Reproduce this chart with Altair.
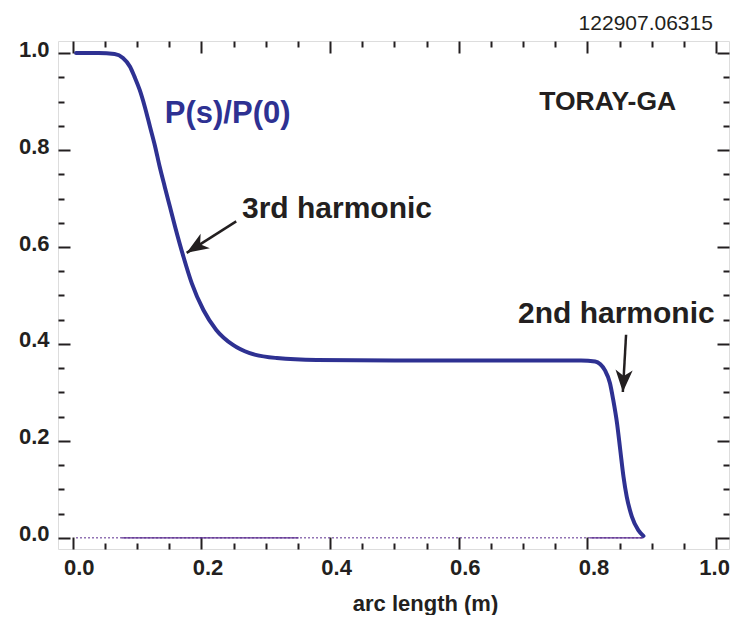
import math
import altair as alt
import pandas as pd

# ---- data ----
S = [0.005, 0.04, 0.065, 0.078, 0.089, 0.096, 0.104, 0.112, 0.12, 0.128, 0.135, 0.143,
     0.151, 0.159, 0.172, 0.185, 0.203, 0.223, 0.249, 0.275, 0.317, 0.379, 0.5, 0.6,
     0.7, 0.79, 0.812, 0.82, 0.827, 0.835, 0.84, 0.846, 0.851, 0.856, 0.861, 0.869,
     0.879, 0.887]
P = [1.0, 1.0, 0.998, 0.99, 0.972, 0.951, 0.924, 0.889, 0.848, 0.807, 0.766, 0.724,
     0.683, 0.642, 0.58, 0.525, 0.47, 0.429, 0.398, 0.381, 0.371, 0.367, 0.366, 0.366,
     0.366, 0.366, 0.364, 0.358, 0.346, 0.319, 0.285, 0.236, 0.181, 0.126, 0.085, 0.044,
     0.016, 0.004]

BASE_DOTTED = [0.005, 0.887]
BASE_SOLID_A = [0.076, 0.351]
BASE_SOLID_B = [0.804, 0.887]

X_TICKS = [0.0, 0.05, 0.1, 0.15, 0.2, 0.25, 0.3, 0.35, 0.4, 0.45, 0.5,
           0.55, 0.6, 0.65, 0.7, 0.75, 0.8, 0.85, 0.9, 0.95, 1.0]
Y_TICKS = [0.0, 0.05, 0.1, 0.15, 0.2, 0.25, 0.3, 0.35, 0.4, 0.45, 0.5,
           0.55, 0.6, 0.65, 0.7, 0.75, 0.8, 0.85, 0.9, 0.95, 1.0]

LABEL_TEXT = ["P(s)/P(0)", "3rd harmonic", "2nd harmonic", "TORAY-GA", "122907.06315"]
LABEL_X = [0.143, 0.263, 0.692, 0.725, 0.995]
LABEL_Y = [0.856, 0.660, 0.443, 0.882, 1.047]

ARROW_X0 = [0.254, 0.860]
ARROW_Y0 = [0.653, 0.419]
ARROW_X1 = [0.177, 0.855]
ARROW_Y1 = [0.588, 0.301]

X_DOMAIN = [-0.023, 1.020]
Y_DOMAIN = [-0.023, 1.025]

# ---- styling ----
W, H = 671, 508
FONT = "Liberation Sans"
BLACK = "#231f20"
BLUE = "#2e3192"
PURPLE = "#5b2c8f"

xs = alt.Scale(domain=X_DOMAIN, nice=False, zero=False)
ys = alt.Scale(domain=Y_DOMAIN, nice=False, zero=False)

MAJOR = "abs(datum.value*5 - round(datum.value*5)) < 0.001"


def make_axis(orient, values, labels, **kw):
    return alt.Axis(
        orient=orient, values=values, labels=labels, ticks=True, domain=False, grid=False,
        tickSize={"expr": f"{MAJOR} ? -12 : -6"}, tickWidth=2, tickColor=BLACK,
        labelExpr=f"{MAJOR} ? format(datum.value, '.1f') : ''",
        labelFont=FONT, labelFontSize=22, labelFontWeight="bold", labelColor=BLACK,
        labelOverlap=False, labelFlush=False, **kw)


ax_bottom = make_axis("bottom", X_TICKS, True, labelPadding=20,
                      labelOffset={"condition": {"test": "datum.value > 0.99", "value": -2},
                                   "value": 6},
                      title="arc length (m)", titleFont=FONT, titleFontSize=22,
                      titleFontWeight="bold", titleColor=BLACK, titleX=367, titleY=61,
                      titleBaseline="alphabetic", titleAlign="center")
ax_left = make_axis("left", Y_TICKS, True, labelPadding=21, labelOffset=-4, title=None)
ax_top = make_axis("top", X_TICKS, False, title=None)
ax_right = make_axis("right", Y_TICKS, False, title=None)

# baseline (dotted) carries bottom/left axes
base_df = pd.DataFrame({"s": BASE_DOTTED, "p": [0.0, 0.0]})
base = alt.Chart(base_df).mark_line(color=PURPLE, strokeWidth=1, strokeDash=[2, 2]).encode(
    x=alt.X("s:Q", scale=xs, axis=ax_bottom),
    y=alt.Y("p:Q", scale=ys, axis=ax_left),
)

solid_layers = []
for seg in (BASE_SOLID_A, BASE_SOLID_B):
    df = pd.DataFrame({"s": seg, "p": [0.0, 0.0]})
    solid_layers.append(
        alt.Chart(df).mark_line(color=PURPLE, strokeWidth=1.2).encode(
            x=alt.X("s:Q", scale=xs, axis=None),
            y=alt.Y("p:Q", scale=ys, axis=None),
        )
    )

# main curve carries top/right axes
curve_df = pd.DataFrame({"s": S, "p": P})
curve = alt.Chart(curve_df).mark_line(color=BLUE, strokeWidth=4, interpolate="monotone",
                                      strokeCap="round").encode(
    x=alt.X("s:Q", scale=xs, axis=ax_top),
    y=alt.Y("p:Q", scale=ys, axis=ax_right),
)

# arrows
pxx = W / (X_DOMAIN[1] - X_DOMAIN[0])
pxy = H / (Y_DOMAIN[1] - Y_DOMAIN[0])
angles = []
for x0, y0, x1, y1 in zip(ARROW_X0, ARROW_Y0, ARROW_X1, ARROW_Y1):
    dx = (x1 - x0) * pxx
    dy = -(y1 - y0) * pxy
    angles.append(math.degrees(math.atan2(dx, -dy)) % 360)

arrow_df = pd.DataFrame({"x0": ARROW_X0, "y0": ARROW_Y0, "x1": ARROW_X1,
                         "y1": ARROW_Y1, "ang": angles})
shafts = alt.Chart(arrow_df).mark_rule(color=BLACK, strokeWidth=2.5).encode(
    x=alt.X("x0:Q", scale=xs, axis=None), y=alt.Y("y0:Q", scale=ys, axis=None),
    x2="x1:Q", y2="y1:Q",
)
heads = alt.Chart(arrow_df).mark_point(
    shape="M0,0L0.78,2L0,1.45L-0.78,2Z", filled=True, size=484, color=BLACK,
    opacity=1, strokeWidth=0,
).encode(
    x=alt.X("x1:Q", scale=xs, axis=None), y=alt.Y("y1:Q", scale=ys, axis=None),
    angle=alt.Angle("ang:Q", scale=None),
)

# text labels
styles = [
    dict(fontSize=31, fontWeight="bold", color=BLUE, align="left"),
    dict(fontSize=30, fontWeight="bold", color=BLACK, align="left"),
    dict(fontSize=30, fontWeight="bold", color=BLACK, align="left"),
    dict(fontSize=26.5, fontWeight="bold", color=BLACK, align="left"),
    dict(fontSize=21, fontWeight="normal", color=BLACK, align="right"),
]
text_layers = []
for t, x, y, st in zip(LABEL_TEXT, LABEL_X, LABEL_Y, styles):
    df = pd.DataFrame({"t": [t], "x": [x], "y": [y]})
    text_layers.append(
        alt.Chart(df).mark_text(font=FONT, baseline="alphabetic", **st).encode(
            x=alt.X("x:Q", scale=xs, axis=None),
            y=alt.Y("y:Q", scale=ys, axis=None),
            text="t:N",
        )
    )

chart = alt.layer(base, *solid_layers, curve, shafts, heads, *text_layers).resolve_axis(
    x="independent", y="independent"
).properties(
    width=W, height=H,
    autosize=alt.AutoSizeParams(type="none"),
    padding={"left": 50, "top": 33, "right": 1, "bottom": 66},
).configure_view(stroke=BLACK, strokeWidth=2.5).configure(background="white")

chart.save("out.html", embed_options={"renderer": "svg", "actions": False})
